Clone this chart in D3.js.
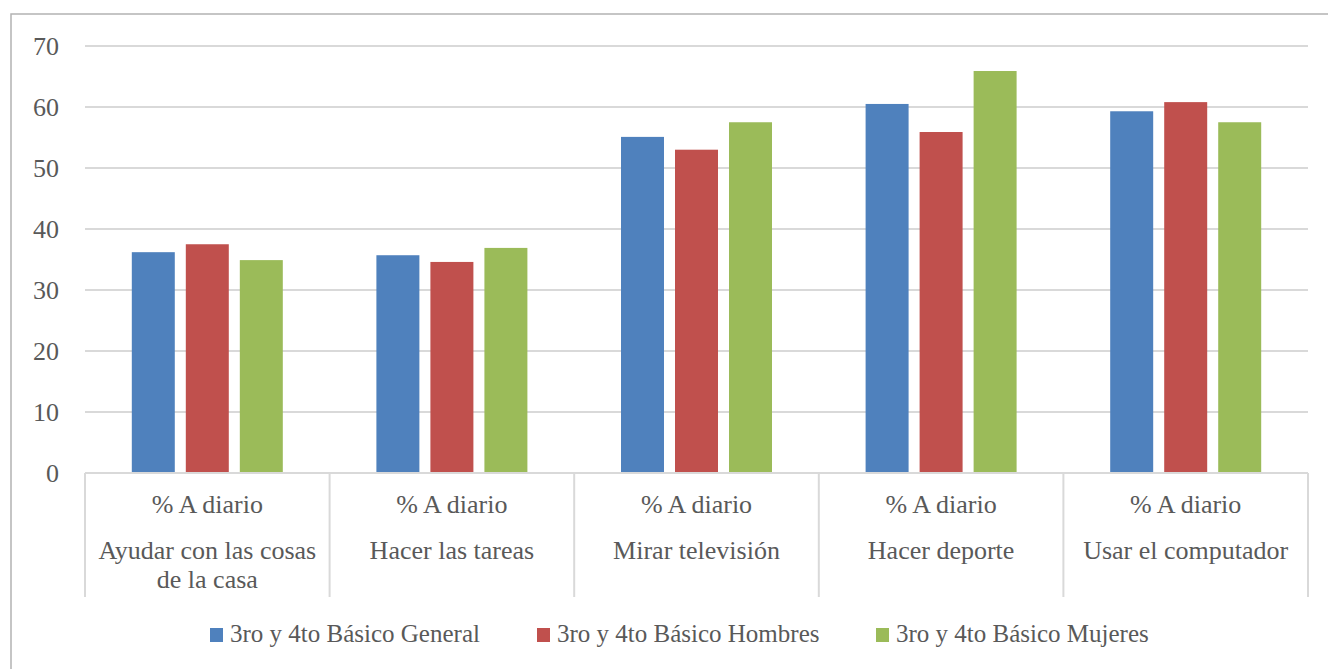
<!DOCTYPE html>
<html><head><meta charset="utf-8">
<script src="https://cdn.jsdelivr.net/npm/d3@7"></script>
<style>body{margin:0;background:#fff}svg{display:block}</style>
</head><body>
<svg id="c" width="1328" height="669"></svg>
<script>
const categories = ["Ayudar con las cosas de la casa","Hacer las tareas","Mirar televisión","Hacer deporte","Usar el computador"];
const categoryLines = [["Ayudar con las cosas","de la casa"],["Hacer las tareas"],["Mirar televisión"],["Hacer deporte"],["Usar el computador"]];
const topLabel = "% A diario";
const seriesNames = ["3ro y 4to Básico General","3ro y 4to Básico Hombres","3ro y 4to Básico Mujeres"];
const general = [36.2, 35.7, 55.1, 60.5, 59.3];
const hombres = [37.5, 34.6, 53.0, 55.9, 60.8];
const mujeres = [34.9, 36.9, 57.5, 65.9, 57.5];
const yTicks = [0,10,20,30,40,50,60,70];
const colors = ["#4f81bd","#c0504d","#9bbb59"];
const seriesValues = [general, hombres, mujeres];

const svg = d3.select("#c");
const font = "'Liberation Serif', 'DejaVu Serif', serif";
const textColor = "#595959";
const mLeft = 85, mRight = 1308, mTop = 46, mBottom = 473;

// outer frame
svg.append("rect").attr("x",11).attr("y",14).attr("width",1330).attr("height",670)
  .attr("fill","none").attr("stroke","#b3b3b3").attr("stroke-width",1.5);

const y = d3.scaleLinear().domain([0,70]).range([mBottom, mTop]);
const x0 = d3.scaleBand().domain(categories).range([mLeft, mRight]).padding(0);
const x1 = d3.scaleBand().domain(seriesNames).range([-75.5, 75.5]).paddingInner(0.204).paddingOuter(0);

// gridlines
svg.append("g").selectAll("line").data(yTicks.filter(d=>d>0)).join("line")
  .attr("x1",mLeft).attr("x2",mRight).attr("y1",d=>y(d)).attr("y2",d=>y(d))
  .attr("stroke","#d9d9d9").attr("stroke-width",2);

// y axis labels
const yAxis = d3.axisLeft(y).tickValues(yTicks).tickSize(0).tickPadding(0);
const ya = svg.append("g").attr("transform",`translate(${mLeft-26},0)`).call(yAxis);
ya.select(".domain").remove();
ya.selectAll("text").attr("font-family",font).attr("font-size",26).attr("fill",textColor).attr("dy","0.34em");

// bars
const groups = svg.append("g").selectAll("g").data(categories).join("g")
  .attr("transform",d=>`translate(${x0(d)+x0.bandwidth()/2},0)`);
groups.selectAll("rect").data((d,i)=>seriesNames.map((s,j)=>({s, v: seriesValues[j][i], c: colors[j]}))).join("rect")
  .attr("x",d=>x1(d.s)).attr("width",x1.bandwidth())
  .attr("y",d=>y(d.v)).attr("height",d=>y(0)-y(d.v))
  .attr("fill",d=>d.c);

// category axis line and separators
svg.append("line").attr("x1",mLeft).attr("x2",mRight).attr("y1",mBottom).attr("y2",mBottom)
  .attr("stroke","#d9d9d9").attr("stroke-width",2);
const seps = categories.map(c=>x0(c)).concat([mRight]);
svg.append("g").selectAll("line").data(seps).join("line")
  .attr("x1",d=>d).attr("x2",d=>d).attr("y1",mBottom).attr("y2",597)
  .attr("stroke","#d9d9d9").attr("stroke-width",2);

// category labels
const lab = svg.append("g").selectAll("g").data(categories).join("g")
  .attr("transform",d=>`translate(${x0(d)+x0.bandwidth()/2},0)`);
lab.append("text").attr("y",513).attr("text-anchor","middle").attr("font-family",font)
  .attr("font-size",26).attr("fill",textColor).text(topLabel);
lab.each(function(d,i){
  const g = d3.select(this);
  categoryLines[i].forEach((ln,k)=>{
    g.append("text").attr("y",559+k*29).attr("text-anchor","middle").attr("font-family",font)
      .attr("font-size",26).attr("fill",textColor).text(ln);
  });
});

// legend
const legendX = [210, 537, 876];
const lg = svg.append("g").selectAll("g").data(seriesNames).join("g")
  .attr("transform",(d,i)=>`translate(${legendX[i]},635)`);
lg.append("rect").attr("x",0).attr("y",-7).attr("width",13).attr("height",14).attr("fill",(d,i)=>colors[i]);
lg.append("text").attr("x",20).attr("y",7).attr("font-family",font)
  .attr("font-size",25).attr("fill",textColor).text(d=>d);
</script>
</body></html>
